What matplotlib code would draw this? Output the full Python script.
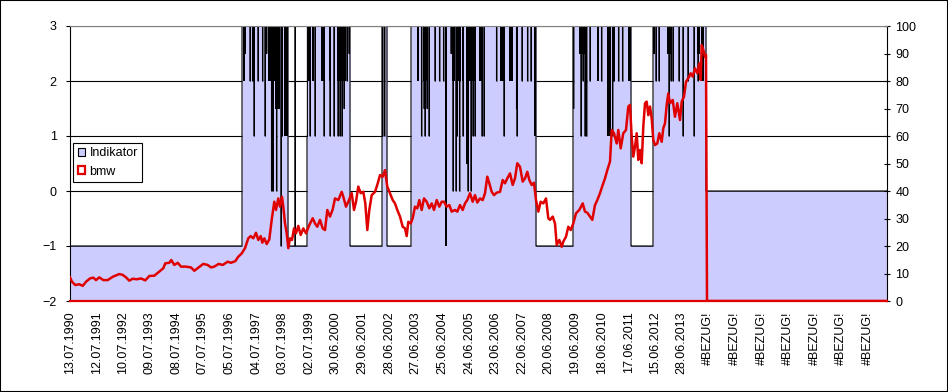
import numpy as np
from matplotlib import pyplot as plt
from matplotlib.patches import Rectangle, Patch

plt.rcParams['font.family'] = ['Liberation Sans', 'DejaVu Sans']
plt.rcParams['font.size'] = 9

# category axis: one label every 266 rows, 8170 rows in total
n_rows = 8170
label_step = 266
labels = ['13.07.1990', '12.07.1991', '10.07.1992', '09.07.1993', '08.07.1994',
          '07.07.1995', '05.07.1996', '04.07.1997', '03.07.1998', '02.07.1999',
          '30.06.2000', '29.06.2001', '28.06.2002', '27.06.2003', '25.06.2004',
          '24.06.2005', '23.06.2006', '22.06.2007', '20.06.2008', '19.06.2009',
          '18.06.2010', '17.06.2011', '15.06.2012', '28.06.2013'] + ['#BEZUG!'] * 7

# Indikator: base levels (row where the level starts)
run_start = [0, 1720, 2180, 2370, 2800, 3120, 3170, 3410, 4660, 5030, 5610, 5830, 6360]
run_level = [-1, 3, -1, 3, -1, 3, -1, 3, -1, 3, -1, 3, 0]

# single-row spikes of the Indikator
spike_row = [1750, 1800, 1825, 1840, 1880, 1925, 1950, 1965, 2015, 2030, 2065, 2110, 2120,
             2250,
             2370, 2400, 2450, 2540, 2600, 2640, 2680, 2700, 2720, 2740, 2770, 2790,
             3125, 3145,
             3515, 3540, 3550, 3570, 3590, 3650, 3695, 3735, 3810, 3830, 3860, 3870, 3895,
             3930, 3980, 4010, 4030, 4050, 4120, 4140, 4265, 4340, 4465, 4470, 4520, 4575, 4610,
             5035, 5110, 5130, 5150, 5165, 5200, 5315, 5425, 5440, 5485, 5525,
             5840, 5860, 5890, 5990, 6010, 6030, 6090, 6130, 6180, 6240, 6280]
spike_val = [2.5, 2, 2, 1, 2, 2, 1, 2.5, 0, 0, 0, -1, 1,
             3,
             1, 1, 1, 1, 1, 1, 1, 1, 1, 1.5, 2, 2.5,
             1, 1,
             1, 1.5, 1, 1.5, 1, 2, 2, 2, 2.5, 0, 0, 1, 0,
             1, 0, 0, 1, 1, 1, 1, 2, 1, 1.5, 1, 2, 2, 2,
             1.5, 1, 2, 1, 1, 2, 2, 1, 2, 2, 2,
             2.5, 2, 2, 1, 2, 2, 2, 1, 2, 1, 2]

# stretches where the Indikator flips so fast that it prints as solid black
dense_start = [1725, 1980, 2050, 2140, 2380, 2420, 2510, 2590, 2670, 3470, 3530, 3752,
               3820, 3880, 3920, 3960, 3990, 4000, 4090, 4300, 4390, 4640,
               5090, 5270, 5370, 5580, 5830, 5970, 6270, 6310]
dense_end = [1745, 2050, 2100, 2180, 2395, 2435, 2535, 2610, 2760, 3490, 3570, 3768,
             3850, 3910, 3940, 3980, 4000, 4060, 4130, 4350, 4430, 4660,
             5170, 5290, 5410, 5610, 5850, 6020, 6300, 6340]
dense_low = [2, 2, 1.5, 1, 2, 2, 2, 2, 2, 2, 2, -1,
             2, 2, 2, 0.5, 2, 2, 2, 2, 2, 1,
             2.5, 2, 1, 2, 2.5, 2.5, 2.5, 2]

# bmw price (right axis); rows after the last quote read as 0
bmw_row = [0, 20, 53, 93, 127, 160, 200, 233, 260, 293, 333, 377, 427, 493, 527, 560, 593,
           627, 667, 710, 753, 793, 843, 893, 933, 953, 993, 1013, 1043, 1077, 1110, 1160,
           1210, 1243, 1287, 1333, 1377, 1410, 1443, 1487, 1527, 1577, 1610, 1653, 1683,
           1717, 1750, 1783, 1807, 1833, 1860, 1883, 1907, 1923, 1943, 1967, 1993, 2017,
           2043, 2060, 2083, 2100, 2120, 2133, 2150, 2167, 2183, 2200, 2220, 2240, 2260,
           2283, 2307, 2333, 2360, 2393, 2427, 2450, 2473, 2500, 2527, 2550, 2573, 2600,
           2627, 2650, 2683, 2717, 2733, 2760, 2783, 2817, 2840, 2860, 2883, 2907, 2933,
           2953, 2973, 2993, 3017, 3050, 3073, 3100, 3127, 3150, 3173, 3200, 3227, 3250,
           3273, 3300, 3327, 3350, 3367, 3383, 3407, 3427, 3450, 3473, 3493, 3517, 3540,
           3567, 3593, 3617, 3640, 3667, 3693, 3717, 3740, 3767, 3793, 3817, 3850, 3873,
           3900, 3927, 3950, 3973, 4000, 4027, 4050, 4073, 4100, 4127, 4150, 4173, 4193,
           4217, 4240, 4267, 4300, 4327, 4350, 4373, 4400, 4427, 4450, 4473, 4500, 4527,
           4550, 4573, 4593, 4617, 4640, 4660, 4683, 4707, 4733, 4760, 4783, 4800, 4827,
           4850, 4867, 4893, 4917, 4933, 4960, 4983, 5007, 5033, 5060, 5093, 5127, 5150,
           5173, 5200, 5223, 5250, 5273, 5300, 5327, 5350, 5373, 5400, 5417, 5440, 5467,
           5483, 5507, 5533, 5560, 5583, 5600, 5617, 5633, 5650, 5667, 5683, 5700, 5717,
           5733, 5750, 5767, 5783, 5800, 5817, 5833, 5850, 5873, 5893, 5917, 5933, 5950,
           5967, 5983, 6000, 6027, 6050, 6073, 6100, 6117, 6140, 6160, 6183, 6207, 6227,
           6250, 6273, 6293, 6307, 6317, 6333, 6350, 6360, 6370, 8170]
bmw_val = [8.6, 7.0, 5.8, 6.1, 5.5, 7.0, 8.2, 8.5, 7.6, 8.6, 7.6, 7.6, 8.8, 9.8, 9.5, 8.6, 7.4,
           8.1, 7.9, 8.2, 7.5, 9.1, 9.2, 10.7, 11.9, 13.7, 13.9, 14.9, 13.1, 13.9, 12.5, 12.5,
           12.2, 11.0, 12.2, 13.5, 13.1, 12.2, 12.5, 13.5, 13.1, 14.3, 13.9, 14.5, 16.1,
           17.3, 19.2, 22.8, 23.6, 22.8, 24.8, 22.2, 23.6, 21.2, 22.8, 20.7, 22.4, 29.5,
           36.1, 33.1, 37.3, 34.3, 37.9, 34.3, 28.2, 24.6, 19.2, 22.8, 22.2, 26.4, 24.6,
           27.3, 24.0, 26.4, 24.6, 27.6, 30.1, 28.2, 27.0, 29.5, 26.4, 25.8, 33.1, 30.7,
           33.3, 37.3, 36.7, 39.7, 37.9, 34.3, 36.1, 39.2, 33.1, 36.1, 41.6, 39.2, 39.7,
           35.5, 25.8, 33.1, 38.5, 39.7, 42.2, 45.8, 45.2, 47.6, 41.6, 39.2, 36.7, 35.5,
           33.1, 30.7, 27.0, 26.4, 23.6, 28.8, 28.2, 30.1, 34.3, 33.7, 36.7, 33.1, 37.3,
           36.1, 33.7, 35.5, 33.1, 36.7, 34.3, 36.1, 36.1, 34.3, 34.9, 32.5, 33.1, 32.5,
           34.9, 33.1, 35.5, 36.7, 39.2, 36.1, 38.5, 35.8, 37.3, 36.7, 39.2, 45.2, 42.8,
           39.7, 38.5, 39.4, 39.7, 44.0, 42.8, 44.6, 46.4, 42.2, 44.6, 50.1, 48.8, 43.4,
           44.6, 47.0, 44.0, 42.2, 43.0, 36.7, 32.5, 36.1, 35.5, 37.3, 30.1, 29.5, 30.7,
           28.2, 20.4, 22.2, 19.7, 21.6, 23.4, 27.0, 25.8, 28.2, 31.9, 33.1, 35.5, 32.5,
           32.1, 30.7, 29.5, 34.9, 36.7, 39.2, 42.2, 44.6, 47.6, 50.7, 62.2, 61.0, 57.3,
           62.2, 55.5, 61.0, 62.2, 70.7, 71.3, 59.7, 52.5, 56.1, 61.0, 51.3, 54.9, 50.1,
           63.4, 71.9, 72.5, 67.6, 70.7, 66.4, 58.5, 56.7, 57.3, 61.0, 57.9, 62.8, 64.6,
           71.3, 75.5, 71.9, 73.1, 67.0, 71.9, 65.8, 72.5, 74.3, 79.7, 81.0, 82.8, 81.6,
           84.6, 82.8, 86.4, 80.4, 93.1, 91.3, 88.8, 89.5, 0, 0]

# expand the Indikator runs into one value per row
rows = np.arange(n_rows + 1)
ind = np.zeros(n_rows + 1)
bounds = run_start + [n_rows + 1]
for i, lev in enumerate(run_level):
    ind[bounds[i]:bounds[i + 1]] = lev
for r, v in zip(spike_row, spike_val):
    ind[r:r + 4] = v

fill_col = '#ccccff'
red = '#e00000'

fig = plt.figure(figsize=(9.48, 3.92), dpi=100)
ax = fig.add_axes([70 / 948, 1 - 301 / 392, 817 / 948, 275 / 392])
ax2 = ax.twinx()

ax.set_axisbelow(True)
ax.yaxis.grid(True, color='black', linewidth=0.8)
ax.fill_between(rows, -2, ind, step='post', color=fill_col, linewidth=0, zorder=1)
ax.plot(rows, ind, drawstyle='steps-post', color='black', linewidth=0.8, zorder=2)
dense_width = np.array(dense_end) - np.array(dense_start)
dense_height = 3 - np.array(dense_low)
ax.bar(dense_start, dense_height, width=dense_width, bottom=dense_low,
       align='edge', color='black', linewidth=0, zorder=2)

ax2.plot(bmw_row, bmw_val, color=red, linewidth=1.8, zorder=3)

ax.set_xlim(0, n_rows)
ax.set_ylim(-2, 3)
ax.set_yticks(range(-2, 4))
ax2.set_ylim(0, 100)
ax2.set_yticks(range(0, 101, 10))

ticks = [i * label_step for i in range(len(labels))]
ax.set_xticks(ticks)
ax.set_xticklabels(labels, rotation=90)
ax.tick_params(axis='x', length=0, pad=7.5)
ax.tick_params(axis='y', direction='out', length=3, width=0.8, pad=6.5)
ax2.tick_params(axis='y', direction='inout', length=5, width=0.8, pad=3.5)

for s in ax.spines.values():
    s.set_visible(False)
ax2.spines['left'].set_color('black')
ax2.spines['right'].set_color('black')
ax2.spines['top'].set_color('#808080')
ax2.spines['bottom'].set_color(red)
ax2.spines['bottom'].set_linewidth(1.6)
for k in ['left', 'right', 'top']:
    ax2.spines[k].set_linewidth(0.8)

handles = [Patch(facecolor=fill_col, edgecolor='black', linewidth=0.8, label='Indikator'),
           Patch(facecolor='white', edgecolor=red, linewidth=1.6, label='bmw')]
leg = ax2.legend(handles=handles, loc='upper left', bbox_to_anchor=(0.004, 0.576),
                 borderaxespad=0, fancybox=False, shadow=False, framealpha=1,
                 edgecolor='black', borderpad=0.35, labelspacing=0.55,
                 handlelength=0.6, handleheight=0.6, handletextpad=0.35)
leg.get_frame().set_linewidth(0.8)

fig.patches.append(Rectangle((0, 0), 1, 1, transform=fig.transFigure,
                             fill=False, edgecolor='black', linewidth=1.5))

fig.savefig('out.png', dpi=100)
